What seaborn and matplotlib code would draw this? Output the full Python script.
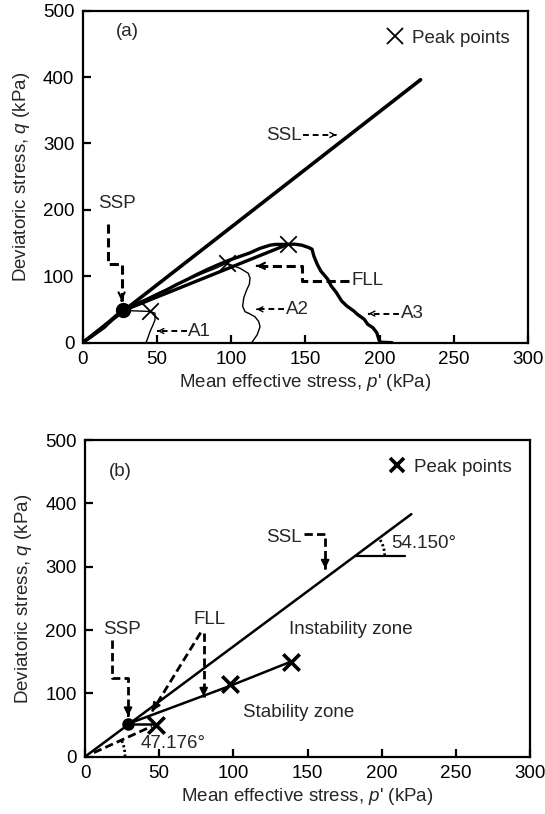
import numpy as np
import matplotlib
matplotlib.use("Agg")
import matplotlib.pyplot as plt
from matplotlib.lines import Line2D
import seaborn as sns

# ---- data (p', q in kPa) ----
# panel (a)
ssl_a_p = [0, 227.5]
ssl_a_q = [0, 396]
fll_a_p = [27, 138]
fll_a_q = [48, 148]
ssp_a = (27, 49)
peak_a_p = [45.5, 97, 138]
peak_a_q = [47, 119.6, 148]

a1_p = [42.6, 44.0, 45.3, 47.2, 48.7, 48.7, 45.5, 40, 34, 28, 24, 20, 15, 10, 5, 1]
a1_q = [0, 8, 16.6, 26, 34.2, 44.3, 47, 47.5, 48, 48.5, 42, 33, 22, 14, 6, 1]

a2_p = [113.8, 117.5, 119.4, 118.5, 116, 112, 109.3, 107.7, 108.5, 110.4, 112.2, 112.7,
        111.5, 106, 97, 90, 80, 70, 60, 50, 40, 32, 27, 21, 14, 8, 3, 0.5]
a2_q = [0, 12, 24, 32, 39, 44, 46.7, 55, 68, 79.4, 88, 97,
        104.5, 112, 119.6, 112.5, 103.5, 94, 84.5, 74, 63, 55, 49, 37, 24, 13, 5, 0.5]

a3_p = [208.3, 203, 200, 199, 198, 195.4, 191.9, 189.6, 184.9, 182.5, 177.8, 174.3,
        170.8, 167.3, 165, 160.3, 157.9, 155.6, 154.4, 152.1, 147.4, 142.7, 138,
        130, 126.4, 119.3, 112.3, 105.3, 98.3, 91.3, 84.2, 77.2, 70.2, 63.2, 56.2,
        49.1, 42.1, 35.1, 28.1, 22, 18, 12, 7, 2, 0]
a3_q = [0, 0.5, 1, 8, 15, 22.6, 27.7, 35.2, 42.8, 47.8, 55.3, 62.9,
        75.5, 85.5, 95.6, 108, 118.2, 130.8, 140.8, 143.4, 146.9, 148.4, 148,
        148, 147, 142, 135, 129.5, 124, 117.5, 110.5, 103, 95, 87.5, 79,
        71.5, 64, 57, 51, 40, 32, 21, 12, 3.5, 0]

# panel (b)
ssl_b_p = [0, 220]
ssl_b_q = [0, 383]
fll_b_p = [28.7, 98, 138.7]
fll_b_q = [51.6, 112, 150]
ssp_b = (28.7, 51.6)
hor_b_p = [28.7, 47.8]
hor_b_q = [51.6, 51.6]
ang_b_p = [6, 45]
ang_b_q = [6.4, 48]
peak_b_p = [47.8, 98, 138.7]
peak_b_q = [50, 114, 150]

xticks = [0, 50, 100, 150, 200, 250, 300]
yticks = [0, 100, 200, 300, 400, 500]

sns.set_style("ticks")
plt.rcParams['font.family'] = ['Liberation Sans', 'DejaVu Sans']
plt.rcParams['mathtext.fontset'] = 'custom'
plt.rcParams['mathtext.rm'] = 'Liberation Sans'
plt.rcParams['mathtext.it'] = 'Liberation Sans:italic'
FS = 13.5

fig = plt.figure(figsize=(5.45, 8.14), dpi=100)
ax_a = fig.add_axes([0.1517, 0.579, 0.8176, 0.4079])
ax_b = fig.add_axes([0.156, 0.0704, 0.8165, 0.389])


def style_axes(ax):
    ax.set_xlim(0, 300)
    ax.set_ylim(0, 500)
    ax.set_xticks(xticks)
    ax.set_yticks(yticks)
    for s in ax.spines.values():
        s.set_linewidth(1.6)
        s.set_color('k')
    ax.tick_params(direction='in', length=6, width=1.6, labelsize=FS, pad=6,
                   top=False, right=False, colors='k')
    ax.set_xlabel("Mean effective stress, $p$' (kPa)", fontsize=FS, labelpad=3)
    ax.set_ylabel("Deviatoric stress, $q$ (kPa)", fontsize=FS, labelpad=8)


def dashed_arrow(ax, pts, lw, dash, head, ms):
    pts = np.asarray(pts, dtype=float)
    ax.plot(pts[:, 0], pts[:, 1], color='k', lw=lw, ls=(0, dash),
            solid_capstyle='butt', dash_capstyle='butt')
    tip = pts[-1]
    d = tip - pts[-2]
    d = d / np.hypot(*d)
    ax.annotate('', xy=tip, xytext=tip - d * 0.5,
                arrowprops=dict(arrowstyle=head, color='k', lw=lw * 0.7,
                                shrinkA=0, shrinkB=0, mutation_scale=ms))


def arc(ax, cx, cy, r, slope):
    # circle arc drawn in screen proportions
    pos = ax.get_position()
    W, H = fig.get_size_inches()
    k = (pos.width * W / 300) / (pos.height * H / 500)
    th = np.arctan(slope / k)
    t = np.linspace(0, th, 30)
    ax.plot(cx + r * np.cos(t), cy + r * np.sin(t) * k, color='k', lw=2.0,
            ls=(0, (0.8, 0.9)))


# ---------------- panel (a) ----------------
ax = ax_a
style_axes(ax)
sns.lineplot(x=ssl_a_p, y=ssl_a_q, sort=False, estimator=None, ax=ax, color='k', lw=2.6)
sns.lineplot(x=fll_a_p, y=fll_a_q, sort=False, estimator=None, ax=ax, color='k', lw=2.4)
sns.lineplot(x=a1_p, y=a1_q, sort=False, estimator=None, ax=ax, color='k', lw=1.0)
sns.lineplot(x=a2_p, y=a2_q, sort=False, estimator=None, ax=ax, color='k', lw=1.0)
sns.lineplot(x=a3_p, y=a3_q, sort=False, estimator=None, ax=ax, color='k', lw=2.4)
sns.scatterplot(x=peak_a_p, y=peak_a_q, ax=ax, marker='x', s=140, color='k', linewidth=1.3, zorder=5)
ax.plot(*ssp_a, 'o', color='k', ms=10, zorder=6)

ax.text(30.4, 468, '(a)', fontsize=FS, ha='center', va='center')
ax.text(23.4, 209, 'SSP', fontsize=FS, ha='center', va='center')
ax.text(135.7, 312, 'SSL', fontsize=FS, ha='center', va='center')
ax.text(181, 93, 'FLL', fontsize=FS, ha='left', va='center')
ax.text(71, 17.6, 'A1', fontsize=FS, ha='left', va='center')
ax.text(137, 50.3, 'A2', fontsize=FS, ha='left', va='center')
ax.text(214.5, 43.8, 'A3', fontsize=FS, ha='left', va='center')

dashed_arrow(ax, [(17.1, 178.6), (17.1, 118.2), (26.2, 118.2), (26.2, 63)], 2.2, (3, 1.5), '->', 11)
dashed_arrow(ax, [(179, 93), (147.4, 93), (147.4, 115.7), (117, 115.7)], 2.2, (3, 1.5), '->', 11)
dashed_arrow(ax, [(148.6, 312.9), (170.8, 312.9)], 1.4, (3, 2), '->', 9)
dashed_arrow(ax, [(70, 17.6), (50.3, 17.6)], 1.4, (3, 2), '->', 9)
dashed_arrow(ax, [(135.5, 50.3), (117, 50.3)], 1.4, (3, 2), '->', 9)
dashed_arrow(ax, [(213, 43.8), (192.4, 43.8)], 1.4, (3, 2), '->', 9)

h = [Line2D([], [], color='k', marker='x', ls='', ms=11, mew=1.3)]
ax.legend(h, ['Peak points'], loc='upper right', frameon=False, fontsize=FS,
          handlelength=0.8, handletextpad=0.5, borderaxespad=0.6)

# ---------------- panel (b) ----------------
ax = ax_b
style_axes(ax)
sns.lineplot(x=ssl_b_p, y=ssl_b_q, sort=False, estimator=None, ax=ax, color='k', lw=1.8)
sns.lineplot(x=fll_b_p, y=fll_b_q, sort=False, estimator=None, ax=ax, color='k', lw=1.8)
sns.lineplot(x=hor_b_p, y=hor_b_q, sort=False, estimator=None, ax=ax, color='k', lw=1.8)
ax.plot(ang_b_p, ang_b_q, color='k', lw=2.0, ls=(0, (3, 1.5)))
sns.scatterplot(x=peak_b_p, y=peak_b_q, ax=ax, marker='x', s=140, color='k', linewidth=2.6, zorder=5)
ax.plot(*ssp_b, 'o', color='k', ms=8, zorder=6)

ax.plot([182.5, 215.4], [317, 317], color='k', lw=1.6)
arc(ax, 182.5, 317.6, 19.5, 383 / 220)
arc(ax, 0, 0, 27, 48 / 45)

ax.text(24, 450, '(b)', fontsize=FS, ha='center', va='center')
ax.text(134.4, 346, 'SSL', fontsize=FS, ha='center', va='center')
ax.text(206.5, 336, '54.150°', fontsize=FS, ha='left', va='center')
ax.text(25.1, 200.5, 'SSP', fontsize=FS, ha='center', va='center')
ax.text(84, 216, 'FLL', fontsize=FS, ha='center', va='center')
ax.text(179, 200.5, 'Instability zone', fontsize=FS, ha='center', va='center')
ax.text(143.8, 70.3, 'Stability zone', fontsize=FS, ha='center', va='center')
ax.text(37.5, 20.8, '47.176°', fontsize=FS, ha='left', va='center')

dashed_arrow(ax, [(147.3, 351.6), (161.9, 351.6), (161.9, 297)], 2.0, (3, 1.5), '-|>', 12)
dashed_arrow(ax, [(18, 185), (18, 125), (29, 125), (29, 64)], 2.0, (3, 1.5), '-|>', 12)
dashed_arrow(ax, [(80, 196), (80, 95)], 2.0, (3, 1.5), '-|>', 12)
dashed_arrow(ax, [(78, 196), (45.3, 72)], 2.0, (3, 1.5), '-|>', 12)

h = [Line2D([], [], color='k', marker='x', ls='', ms=10, mew=2.6)]
ax.legend(h, ['Peak points'], loc='upper right', frameon=False, fontsize=FS,
          handlelength=0.8, handletextpad=0.5, borderaxespad=0.6)

fig.savefig('out.png', dpi=100)
